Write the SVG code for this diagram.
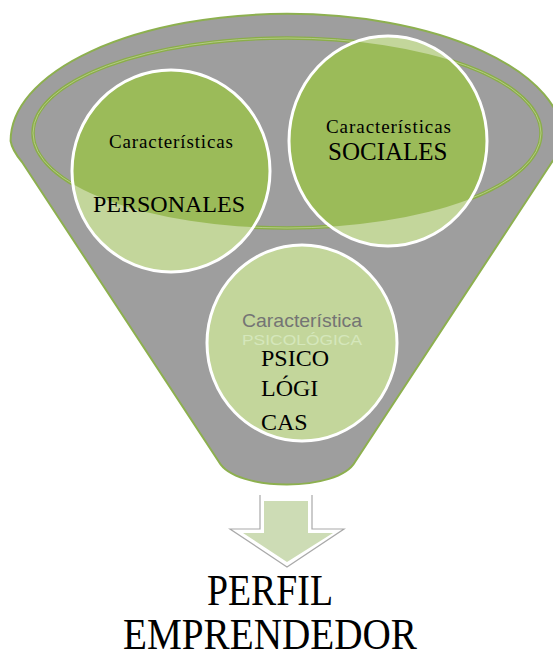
<svg xmlns="http://www.w3.org/2000/svg" width="553" height="654" viewBox="0 0 553 654">
  <style>
    .serif { font-family: "Liberation Serif", "Times New Roman", serif; fill: #000; }
    .sans { font-family: "Liberation Sans", Arial, sans-serif; }
    .light { fill: #c3d69b; }
    .dark { fill: #9bbb59; }
    .ring { fill: none; stroke: #ffffff; stroke-width: 3; }
  </style>
  <defs>
    <clipPath id="rimClip">
      <ellipse cx="287" cy="133" rx="254" ry="95"/>
    </clipPath>
  </defs>
  <rect x="0" y="0" width="553" height="654" fill="#ffffff"/>

  <g id="funnel">
    <path d="M 10.6,141 A 276 127 0 0 1 563.4,141 Q 562,150 552,162 L 355,462 C 338,492 236,492 219,462 L 22,162 Q 12,150 10.6,141 Z" fill="#9e9e9e" stroke="#8db04f" stroke-width="2"/>
    <ellipse cx="287" cy="133" rx="254" ry="95" fill="none" stroke="#8aae48" stroke-width="3.5"/>
    <ellipse cx="287" cy="133" rx="254" ry="95" fill="none" stroke="#b4cb85" stroke-width="1"/>
  </g>

  <g id="node-personales">
    <ellipse class="light" cx="171" cy="171" rx="99" ry="101"/>
    <ellipse class="dark" cx="171" cy="171" rx="99" ry="101" clip-path="url(#rimClip)"/>
    <ellipse class="ring" cx="171" cy="171" rx="99" ry="101"/>
    <text class="serif" x="109" y="148" font-size="19" textLength="124" lengthAdjust="spacing">Características</text>
    <text class="serif" x="93" y="212" font-size="24">PERSONALES</text>
  </g>

  <g id="node-sociales">
    <ellipse class="light" cx="388" cy="141" rx="99" ry="105"/>
    <ellipse class="dark" cx="388" cy="141" rx="99" ry="105" clip-path="url(#rimClip)"/>
    <ellipse class="ring" cx="388" cy="141" rx="99" ry="105"/>
    <text class="serif" x="326" y="133" font-size="19" textLength="125" lengthAdjust="spacing">Características</text>
    <text class="serif" x="328" y="160" font-size="25">SOCIALES</text>
  </g>

  <g id="node-psicologicas">
    <ellipse class="light" cx="302" cy="343" rx="95" ry="98"/>
    <ellipse class="ring" cx="302" cy="343" rx="95" ry="98"/>
    <text class="sans" x="242" y="327" font-size="19" fill="#747474" textLength="120" lengthAdjust="spacingAndGlyphs">Característica</text>
    <text class="sans" x="242" y="345" font-size="15" fill="#d5e7bb" textLength="120" lengthAdjust="spacingAndGlyphs">PSICOLÓGICA</text>
    <text class="serif" x="261" y="366" font-size="24">PSICO</text>
    <text class="serif" x="261" y="396" font-size="24">LÓGI</text>
    <text class="serif" x="261" y="430" font-size="24">CAS</text>
  </g>

  <g id="connectors">
    <path d="M 260,495 L 260,529 L 230,529 L 287,567 L 344,529 L 312,529 L 312,495" fill="#ffffff" stroke="#a9a9a9" stroke-width="1.2"/>
    <path d="M 264,501 L 308,501 L 308,533 L 333,533 L 287,562 L 243,533 L 264,533 Z" fill="#cddcb5"/>
  </g>

  <g id="node-perfil">
    <text class="serif" x="207" y="605" font-size="44" textLength="126" lengthAdjust="spacingAndGlyphs">PERFIL</text>
    <text class="serif" x="123" y="649" font-size="44" textLength="294" lengthAdjust="spacingAndGlyphs">EMPRENDEDOR</text>
  </g>
</svg>
